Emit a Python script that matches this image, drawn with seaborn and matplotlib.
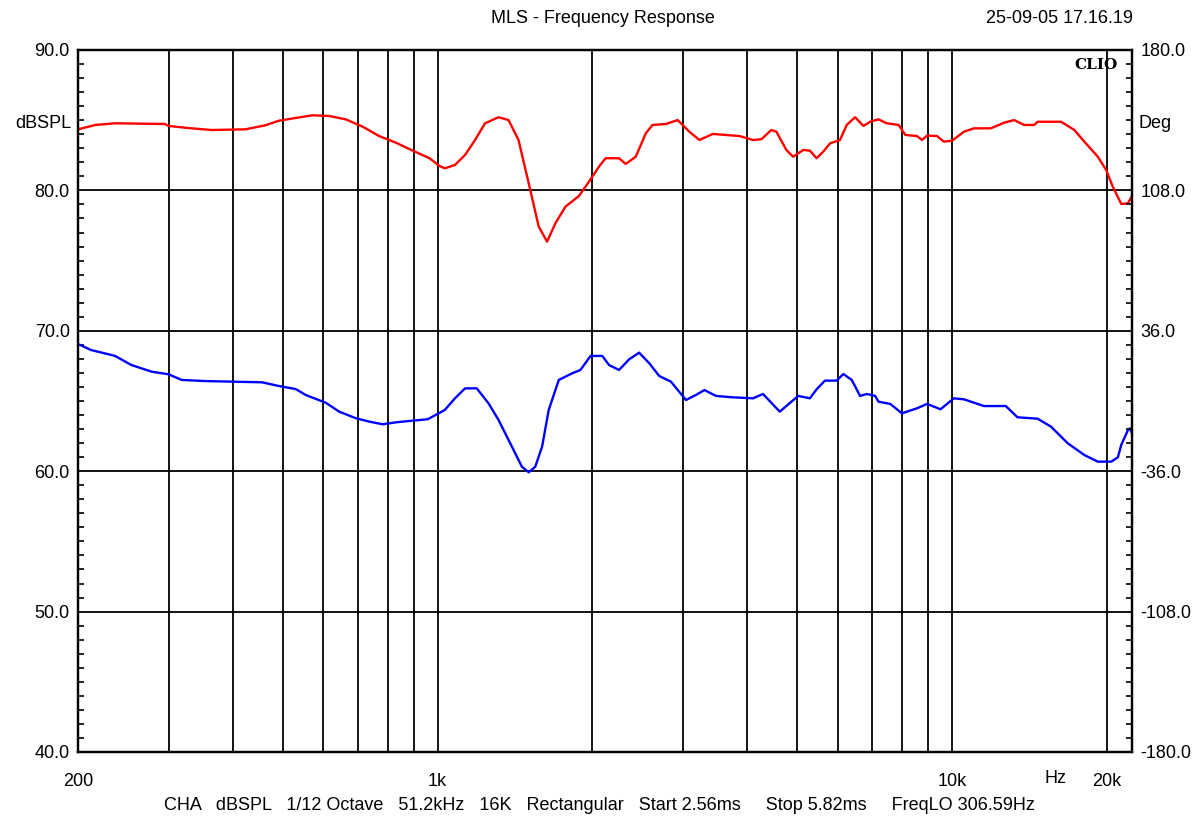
import seaborn as sns
import matplotlib.pyplot as plt
import matplotlib.transforms as mtransforms
from matplotlib.ticker import FixedLocator, MultipleLocator, NullFormatter
import pandas as pd

# red trace (dBSPL)
red_freq = [200, 216, 236, 295, 300, 328, 364, 423, 463, 491, 530, 571, 615, 663, 715,
            770, 830, 895, 965, 1009, 1033, 1081, 1131, 1183, 1237, 1314, 1374, 1437, 1504,
            1573, 1633, 1695, 1773, 1883, 1970, 2060, 2122, 2254, 2322, 2429, 2541, 2618,
            2780, 2930, 3088, 3230, 3429, 3867, 4106, 4262, 4457, 4559, 4767, 4914, 5141,
            5297, 5458, 5623, 5797, 6061, 6246, 6485, 6732, 6938, 7201, 7474, 7880, 8120,
            8555, 8750, 8949, 9362, 9647, 10014, 10555, 11041, 11900, 12636, 13216, 13820,
            14460, 14680, 16310, 17310, 18100, 19220, 19960, 20560, 21350, 22000, 22400]
red_db = [84.35, 84.66, 84.78, 84.73, 84.59, 84.44, 84.30, 84.35, 84.64, 84.96, 85.16, 85.35,
          85.30, 85.06, 84.54, 83.87, 83.40, 82.83, 82.29, 81.74, 81.57, 81.81, 82.52, 83.59,
          84.78, 85.21, 85.01, 83.59, 80.51, 77.42, 76.35, 77.66, 78.84, 79.60, 80.62, 81.69,
          82.29, 82.29, 81.88, 82.40, 84.07, 84.66, 84.73, 85.01, 84.18, 83.59, 84.02, 83.87,
          83.59, 83.64, 84.30, 84.18, 82.88, 82.40, 82.88, 82.83, 82.29, 82.76, 83.35, 83.59,
          84.66, 85.21, 84.59, 84.89, 85.06, 84.78, 84.66, 83.95, 83.87, 83.59, 83.90, 83.87,
          83.47, 83.54, 84.18, 84.42, 84.42, 84.82, 85.01, 84.66, 84.66, 84.89, 84.89, 84.30,
          83.47, 82.40, 81.45, 80.26, 79.03, 79.08, 79.60]

# blue trace
blue_freq = [200, 212, 225, 236, 254, 278, 300, 318, 353, 456, 491, 530, 554, 606, 644, 694,
             737, 782, 830, 895, 957, 1033, 1081, 1131, 1192, 1256, 1314, 1395, 1459, 1504,
             1549, 1597, 1645, 1721, 1827, 1896, 1984, 2091, 2155, 2254, 2358, 2466, 2580,
             2698, 2843, 3041, 3180, 3304, 3479, 3752, 4106, 4294, 4628, 4876, 5026, 5297,
             5458, 5666, 5970, 6153, 6388, 6632, 6834, 7096, 7201, 7592, 7996, 8555, 8949,
             9504, 10091, 10555, 11550, 12732, 13414, 14680, 15590, 16800, 18100, 19220,
             20420, 21030, 21350, 22000, 22200, 22400]
blue_db = [69.06, 68.63, 68.40, 68.21, 67.56, 67.09, 66.90, 66.50, 66.42, 66.33, 66.07, 65.85,
           65.43, 64.88, 64.24, 63.77, 63.53, 63.34, 63.48, 63.60, 63.70, 64.36, 65.19, 65.90,
           65.90, 64.84, 63.65, 61.75, 60.32, 59.92, 60.32, 61.75, 64.36, 66.50, 66.97, 67.21,
           68.21, 68.21, 67.56, 67.21, 67.97, 68.44, 67.69, 66.78, 66.38, 65.07, 65.43, 65.78,
           65.36, 65.26, 65.19, 65.50, 64.24, 64.95, 65.36, 65.19, 65.83, 66.45, 66.45, 66.92,
           66.50, 65.36, 65.50, 65.36, 64.95, 64.79, 64.12, 64.48, 64.79, 64.41, 65.19, 65.12,
           64.64, 64.64, 63.84, 63.74, 63.17, 61.99, 61.15, 60.68, 60.68, 60.99, 61.87, 62.93,
           63.05, 62.70]

x_ticks = [200, 1000, 10000, 20000]
x_labels = ['200', '1k', '10k', '20k']
x_grid = [300, 400, 500, 600, 700, 800, 900, 2000, 3000, 4000, 5000, 6000, 7000, 8000, 9000]
db_ticks = [40, 50, 60, 70, 80, 90]
deg_ticks = [-180, -108, -36, 36, 108, 180]

sns.set_style('white', {'text.color': 'black', 'xtick.color': 'black', 'ytick.color': 'black'})
plt.rcParams['font.family'] = ['Liberation Sans', 'DejaVu Sans']
FS = 13

fig = plt.figure(figsize=(11.99, 8.25), dpi=100)
ax = fig.add_axes([0.0651, 0.0885, 0.8790, 0.8509])

red = pd.DataFrame({'freq': red_freq, 'db': red_db})
blue = pd.DataFrame({'freq': blue_freq, 'db': blue_db})
sns.lineplot(data=red, x='freq', y='db', color='#ff0000', lw=1.7, ax=ax)
sns.lineplot(data=blue, x='freq', y='db', color='#0000ff', lw=1.7, ax=ax)

ax.set_xscale('log')
ax.set_xlim(200, 22400)
ax.set_ylim(40, 90)
ax.set_xlabel('')
ax.set_ylabel('')

ax.xaxis.set_major_locator(FixedLocator(x_ticks))
ax.xaxis.set_minor_locator(FixedLocator(x_grid))
ax.xaxis.set_minor_formatter(NullFormatter())
ax.set_xticklabels(x_labels)
ax.set_yticks(db_ticks)
ax.set_yticklabels([f'{v:.1f}' for v in db_ticks])
ax.yaxis.set_minor_locator(MultipleLocator(1))

ax.grid(True, which='major', axis='both', color='black', lw=1.3)
ax.grid(True, which='minor', axis='x', color='black', lw=1.3)
ax.set_axisbelow(True)

ax.tick_params(axis='x', which='both', length=0, pad=15, labelsize=FS, labelcolor='black')
ax.tick_params(axis='y', which='major', length=0, pad=6, labelsize=FS, labelcolor='black')
ax.tick_params(axis='y', which='minor', direction='in', length=4, width=1.2, color='black')

ax2 = ax.twinx()
ax2.set_ylim(-180, 180)
ax2.set_yticks(deg_ticks)
ax2.set_yticklabels([f'{v:.1f}' for v in deg_ticks])
ax2.yaxis.set_minor_locator(MultipleLocator(7.2))
ax2.tick_params(axis='y', which='major', length=0, pad=6, labelsize=FS, labelcolor='black')
ax2.tick_params(axis='y', which='minor', direction='in', length=4, width=1.2, color='black')

for a in (ax, ax2):
    for s in a.spines.values():
        s.set_color('black')
        s.set_linewidth(1.6)

# annotations around the frame
ax.text(-0.006, 0.895, 'dBSPL', transform=ax.transAxes, ha='right', va='center',
        fontsize=FS, color='black')
ax.text(1.006, 0.895, 'Deg', transform=ax.transAxes, ha='left', va='center',
        fontsize=FS, color='black')
ax.text(0.966, 0.978, 'CLIO', transform=ax.transAxes, ha='center', va='center',
        fontsize=11, fontweight='bold', family='DejaVu Serif', color='black')
trans = mtransforms.blended_transform_factory(ax.transData, ax.transAxes)
ax.text(15900, -0.038, 'Hz', transform=trans, ha='center', va='center',
        fontsize=FS, color='black')

fig.text(0.503, 0.978, 'MLS - Frequency Response', ha='center', va='center',
         fontsize=FS, color='black')
fig.text(0.945, 0.978, '25-09-05 17.16.19', ha='right', va='center',
         fontsize=FS, color='black')
fig.text(0.5, 0.024,
         'CHA   dBSPL   1/12 Octave   51.2kHz   16K   Rectangular   Start 2.56ms'
         '     Stop 5.82ms     FreqLO 306.59Hz',
         ha='center', va='center', fontsize=FS, color='black')

fig.savefig('out.png', dpi=100, facecolor='white')
